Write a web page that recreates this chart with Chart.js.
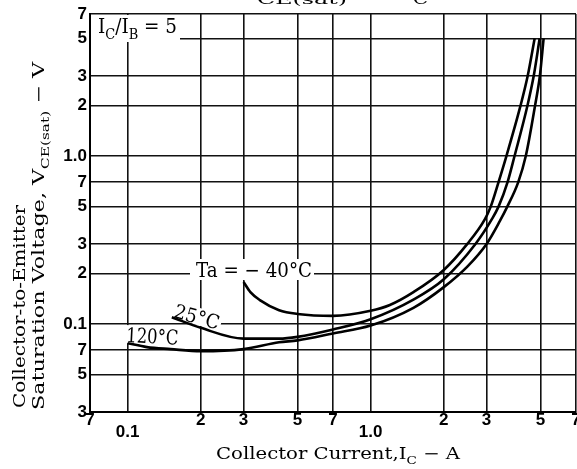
<!DOCTYPE html>
<html>
<head>
<meta charset="utf-8">
<script src="https://cdn.jsdelivr.net/npm/chart.js@4.4.1/dist/chart.umd.min.js"></script>
<style>
  html, body { margin: 0; padding: 0; background: #fff; }
  canvas { display: block; }
</style>
</head>
<body>
<canvas id="chart" width="577" height="469"></canvas>
<script>
// axis ticks (log-log grid)
const X_TICKS = [0.07, 0.1, 0.2, 0.3, 0.5, 0.7, 1, 2, 3, 5, 7];
const X_TICK_LABELS = ['7', ['', '0.1'], '2', '3', '5', '7', ['', '1.0'], '2', '3', '5', '7'];
const Y_TICKS = [0.03, 0.05, 0.07, 0.1, 0.2, 0.3, 0.5, 0.7, 1, 2, 3, 5, 7];
const Y_TICK_LABELS = ['3', '5', '7', '0.1', '2', '3', '5', '7', '1.0', '2', '3', '5', '7'];

// Ta = -40°C
const IC_M40 = [0.3, 0.32, 0.35, 0.42, 0.5, 0.7, 1.0, 1.2, 1.5, 2.0, 2.5, 2.95, 3.12, 3.36, 3.62, 4.14, 4.43, 4.73];
const VCE_M40 = [0.178, 0.155, 0.139, 0.121, 0.115, 0.112, 0.12, 0.13, 0.155, 0.21, 0.3, 0.42, 0.5, 0.7, 1.0, 2.0, 3.0, 5.0];
// Ta = 25°C
const IC_25 = [0.152, 0.2, 0.3, 0.42, 0.5, 0.7, 1.0, 1.5, 2.0, 2.7, 3.15, 3.36, 3.66, 3.91, 4.42, 4.69, 4.96];
const VCE_25 = [0.11, 0.095, 0.082, 0.082, 0.084, 0.093, 0.107, 0.14, 0.185, 0.3, 0.42, 0.5, 0.7, 1.0, 2.0, 3.0, 5.0];
// Ta = 120°C
const IC_120 = [0.1, 0.12, 0.15, 0.2, 0.3, 0.42, 0.5, 0.7, 1.0, 1.5, 2.0, 2.5, 3.0, 3.4, 3.65, 4.05, 4.35, 4.75, 4.97, 5.15];
const VCE_120 = [0.077, 0.073, 0.071, 0.069, 0.071, 0.078, 0.08, 0.088, 0.098, 0.125, 0.166, 0.22, 0.3, 0.41, 0.5, 0.7, 1.0, 2.0, 3.0, 5.0];

const SERIF = '"DejaVu Serif", "Liberation Serif", serif';
const NUM_FONT = { family: '"Liberation Sans", Arial, sans-serif', size: 17, weight: 'bold', lineHeight: 0.68 };

function toPoints(xs, ys) {
    return xs.map((x, i) => ({ x: x, y: ys[i] }));
}

// text with subscripts: parts = [[text, isSub], ...]
function drawRich(ctx, parts, x, y, size, fitWidth, stretchY) {
    ctx.save();
    const fonts = parts.map(p => (p[1] ? Math.round(size * 0.68) : size) + 'px ' + SERIF);
    let total = 0;
    const widths = parts.map((p, i) => {
        ctx.font = fonts[i];
        const w = ctx.measureText(p[0]).width;
        total += w;
        return w;
    });
    ctx.translate(x, y);
    ctx.scale(fitWidth ? fitWidth / total : 1, stretchY || 1);
    ctx.fillStyle = '#000';
    ctx.textAlign = 'left';
    ctx.textBaseline = 'alphabetic';
    let cx = 0;
    parts.forEach((p, i) => {
        ctx.font = fonts[i];
        ctx.fillText(p[0], cx, p[1] ? size * 0.3 : 0);
        cx += widths[i];
    });
    ctx.restore();
}

const labelsPlugin = {
    id: 'labels',
    beforeDatasetsDraw(chart) {
        const ctx = chart.ctx;
        ctx.save();
        ctx.fillStyle = '#fff';
        ctx.fillRect(91, 15, 89, 27);
        drawRich(ctx, [['I', 0], ['C', 1], ['/I', 0], ['B', 1], [' = 5', 0]], 98, 33, 17, 79, 1.2);

        ctx.fillStyle = '#fff';
        ctx.fillRect(190, 259, 124, 21);
        drawRich(ctx, [['Ta = \u2212 40\u00b0C', 0]], 196, 277, 17, 116, 1.2);

        ctx.save();
        ctx.translate(173, 317);
        ctx.rotate(16 * Math.PI / 180);
        ctx.fillStyle = '#fff';
        ctx.fillRect(-2, -16, 50, 17);
        drawRich(ctx, [['25\u00b0C', 0]], 0, 0, 17, 46, 1.15);
        ctx.restore();

        ctx.save();
        ctx.translate(126, 342);
        ctx.rotate(3 * Math.PI / 180);
        ctx.fillStyle = '#fff';
        ctx.fillRect(-1, -17, 54, 18);
        drawRich(ctx, [['120\u00b0C', 0]], 0, 0, 17, 52, 1.2);
        ctx.restore();
        ctx.restore();
    },
    afterDraw(chart) {
        const ctx = chart.ctx;
        // clipped chart title along the top edge
        drawRich(ctx, [['CE(sat)', 0]], 257, 4, 12, 90);
        drawRich(ctx, [['C', 0]], 413, 4, 12, 15);

        // x axis title
        drawRich(ctx, [['Collector Current,I', 0], ['C', 1], [' \u2212 A', 0]], 216, 459, 16, 244);

        // y axis title, two rotated lines
        ctx.save();
        ctx.translate(25, 408);
        ctx.rotate(-Math.PI / 2);
        drawRich(ctx, [['Collector-to-Emitter', 0]], 0, 0, 16, 203);
        ctx.restore();
        ctx.save();
        ctx.translate(44, 410);
        ctx.rotate(-Math.PI / 2);
        drawRich(ctx, [['Saturation Voltage, V', 0], ['CE(sat)', 1], [' \u2212 V', 0]], 0, 0, 16, 348);
        ctx.restore();
    }
};

const lineStyle = {
    showLine: true,
    borderColor: '#000',
    backgroundColor: '#000',
    borderWidth: 2.6,
    pointRadius: 0,
    cubicInterpolationMode: 'monotone',
    fill: false
};

new Chart(document.getElementById('chart'), {
    type: 'scatter',
    data: {
        datasets: [
            Object.assign({ label: 'Ta = -40°C', data: toPoints(IC_M40, VCE_M40) }, lineStyle),
            Object.assign({ label: '25°C', data: toPoints(IC_25, VCE_25) }, lineStyle),
            Object.assign({ label: '120°C', data: toPoints(IC_120, VCE_120) }, lineStyle)
        ]
    },
    options: {
        responsive: false,
        animation: false,
        devicePixelRatio: 1,
        layout: { padding: { top: 14, right: 1, bottom: 0, left: 0 } },
        plugins: {
            legend: { display: false },
            tooltip: { enabled: false },
            title: { display: false }
        },
        scales: {
            x: {
                type: 'logarithmic',
                min: 0.07,
                max: 7,
                afterBuildTicks: (scale) => { scale.ticks = X_TICKS.map(v => ({ value: v })); },
                afterFit: (scale) => { scale.height = 57; scale.paddingLeft = 0; scale.paddingRight = 0; },
                ticks: {
                    autoSkip: false,
                    maxRotation: 0,
                    padding: 3,
                    color: '#000',
                    font: NUM_FONT,
                    callback: (value, index) => X_TICK_LABELS[index]
                },
                grid: { color: '#111', lineWidth: 1.6, drawTicks: false },
                border: { color: '#000', width: 2 }
            },
            y: {
                type: 'logarithmic',
                min: 0.03,
                max: 7,
                afterBuildTicks: (scale) => { scale.ticks = Y_TICKS.map(v => ({ value: v })); },
                afterFit: (scale) => { scale.width = 90; scale.paddingTop = 0; scale.paddingBottom = 0; },
                ticks: {
                    autoSkip: false,
                    padding: 3,
                    color: '#000',
                    font: NUM_FONT,
                    callback: (value, index) => Y_TICK_LABELS[index]
                },
                grid: { color: '#111', lineWidth: 1.6, drawTicks: false },
                border: { color: '#000', width: 2 }
            }
        }
    },
    plugins: [labelsPlugin]
});
</script>
</body>
</html>
